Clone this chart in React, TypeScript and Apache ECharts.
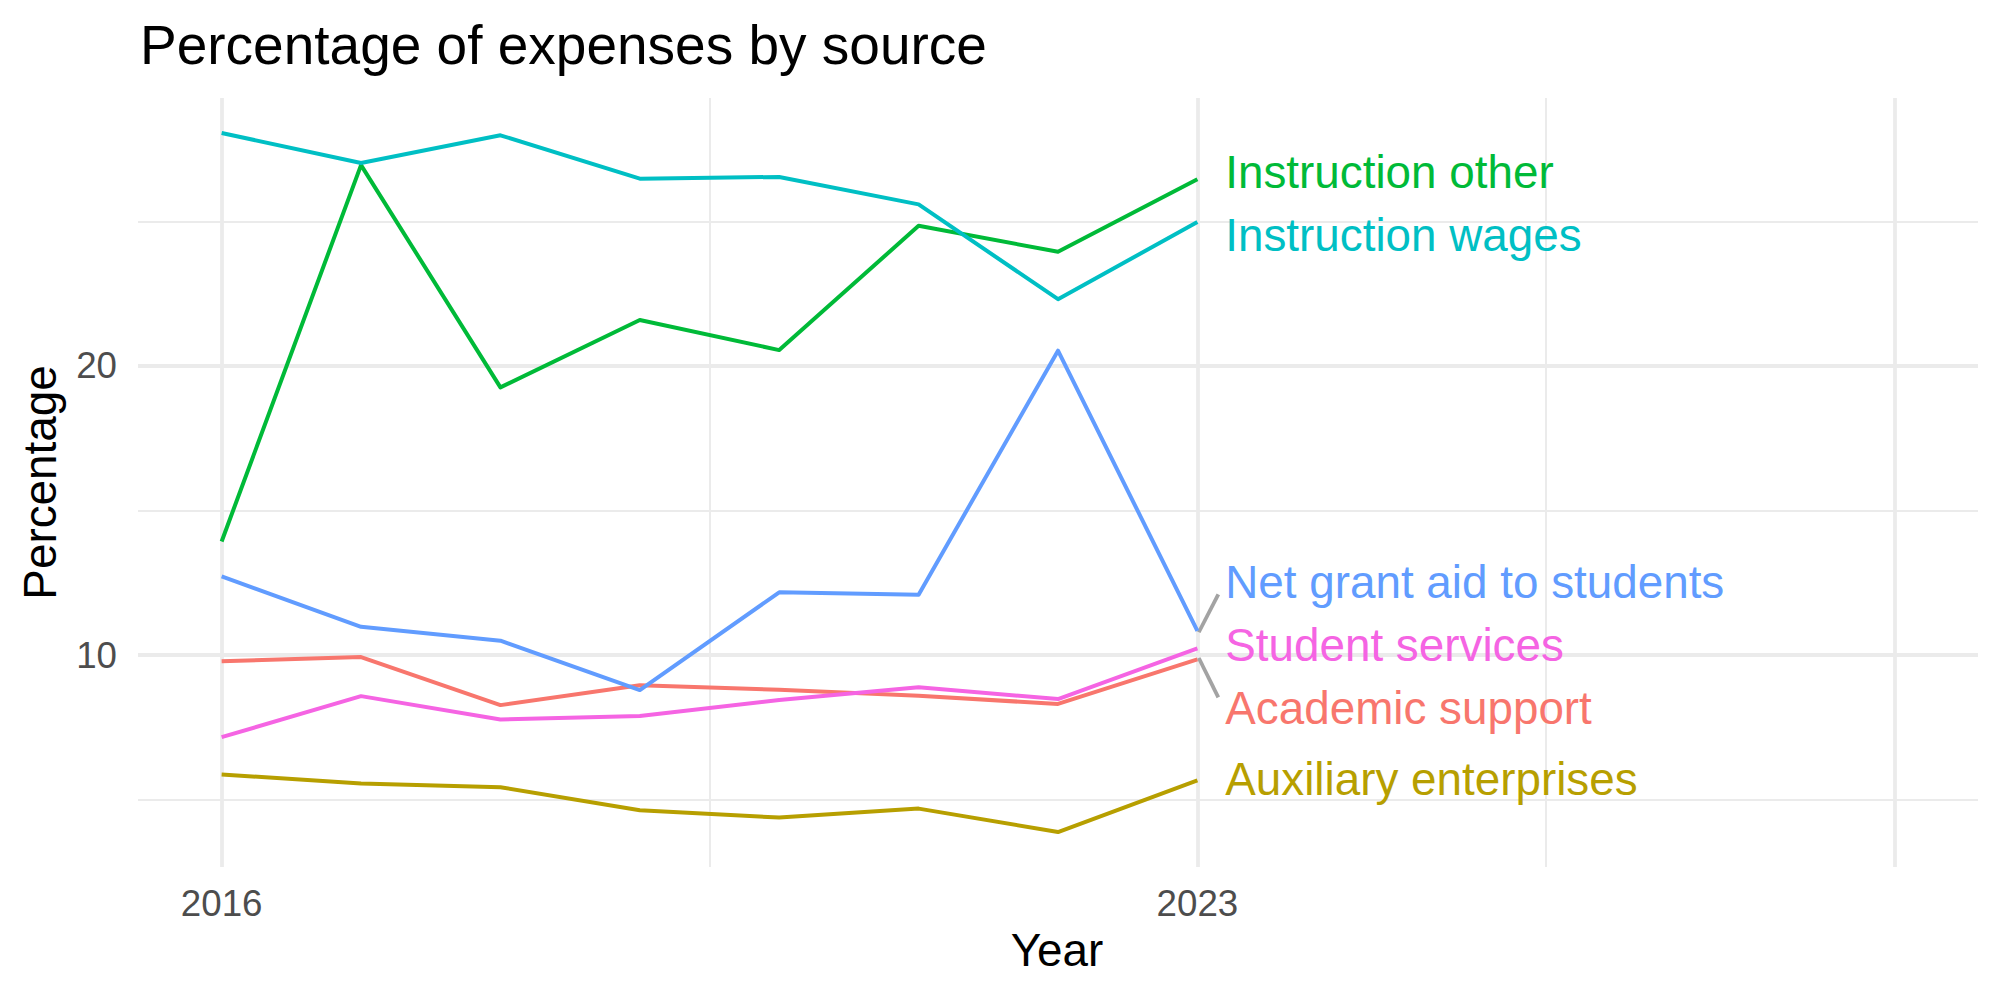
import React, { useEffect, useRef } from "react";
import * as echarts from "echarts";

// Expense shares by source, 2016–2023 (percent)
const years = [2016, 2017, 2018, 2019, 2020, 2021, 2022, 2023];
const sources = [
  "Academic support",
  "Auxiliary enterprises",
  "Instruction other",
  "Instruction wages",
  "Net grant aid to students",
  "Student services",
];
const academicSupport = [9.79, 9.93, 8.27, 8.96, 8.8, 8.59, 8.31, 9.85];
const auxiliaryEnterprises = [5.87, 5.56, 5.43, 4.63, 4.38, 4.69, 3.88, 5.67];
const instructionOther = [13.93, 26.95, 19.26, 21.59, 20.55, 24.85, 23.95, 26.46];
const instructionWages = [28.06, 27.02, 27.98, 26.48, 26.54, 25.59, 22.31, 24.98];
const netGrantAid = [12.72, 10.98, 10.5, 8.79, 12.17, 12.09, 20.53, 10.84];
const studentServices = [7.16, 8.58, 7.77, 7.89, 8.45, 8.89, 8.48, 10.23];

// Where each series' end label sits (after repelling overlaps)
const labelY = [8.14, 5.68, 26.71, 24.52, 12.5, 10.34];
const labelX = 2023.2;
const leaderSources = ["Net grant aid to students", "Academic support"];

const xTicks = [2016, 2023];
const yTicks = [10, 20];
const xMajorGrid = [2016, 2023, 2028];
const xMinorGrid = [2019.5, 2025.5];
const yMajorGrid = [10, 20];
const yMinorGrid = [5, 15, 25];

const hue = ["#F8766D", "#B79F00", "#00BA38", "#00BFC4", "#619CFF", "#F564E3"];
const FONT = "'Liberation Sans', Arial, Helvetica, sans-serif";

const values = [
  academicSupport,
  auxiliaryEnterprises,
  instructionOther,
  instructionWages,
  netGrantAid,
  studentServices,
];

const X_MIN = 2015.4;
const X_MAX = 2028.6;
const Y_MIN = 2.67;
const Y_MAX = 29.27;

export default function App() {
  const ref = useRef<HTMLDivElement>(null);

  useEffect(() => {
    document.body.style.margin = "0";
    if (!ref.current) return;
    const chart = echarts.init(ref.current, undefined, { renderer: "svg" });

    const GRID = "#EBEBEB";
    const MAJOR = 3.8;
    const MINOR = 2;
    const gridLines = [
      ...xMajorGrid.map((v) => ({ xAxis: v, lineStyle: { width: MAJOR, color: GRID, type: "solid" } })),
      ...xMinorGrid.map((v) => ({ xAxis: v, lineStyle: { width: MINOR, color: GRID, type: "solid" } })),
      ...yMajorGrid.map((v) => ({ yAxis: v, lineStyle: { width: MAJOR, color: GRID, type: "solid" } })),
      ...yMinorGrid.map((v) => ({ yAxis: v, lineStyle: { width: MINOR, color: GRID, type: "solid" } })),
    ];

    const lineSeries = sources.map((name, i) => ({
      name,
      type: "line",
      data: years.map((y, j) => [y, values[i][j]]),
      showSymbol: false,
      symbol: "none",
      z: 3,
      lineStyle: { color: hue[i], width: 4, join: "round", cap: "butt" },
      itemStyle: { color: hue[i] },
    }));

    const leaderSeries = leaderSources.map((name) => {
      const i = sources.indexOf(name);
      const last = values[i][values[i].length - 1];
      const dir = Math.sign(labelY[i] - last);
      return {
        type: "line",
        data: [
          [2023.01, last - dir * 0.05],
          [2023.15, labelY[i] - dir * 0.4],
        ],
        showSymbol: false,
        symbol: "none",
        z: 2,
        lineStyle: { color: "#A3A3A3", width: 3.8, cap: "butt" },
      };
    });

    const labelSeries = sources.map((name, i) => ({
      type: "scatter",
      data: [[labelX, labelY[i]]],
      symbolSize: 0,
      z: 4,
      label: {
        show: true,
        position: "right",
        distance: 0,
        formatter: name,
        color: hue[i],
        opacity: 1,
        textBorderWidth: 0,
        textShadowBlur: 0,
        fontSize: 45.8,
        fontFamily: FONT,
        verticalAlign: "middle",
      },
    }));

    chart.setOption({
      animation: false,
      backgroundColor: "#FFFFFF",
      grid: { left: 138, right: 22, top: 98, bottom: 133, containLabel: false },
      xAxis: {
        type: "value",
        min: X_MIN,
        max: X_MAX,
        axisLine: { show: false },
        axisTick: { show: false },
        splitLine: { show: false },
        axisLabel: {
          customValues: xTicks,
          formatter: (v: number) => String(v),
          color: "#4D4D4D",
          fontSize: 36.7,
          fontFamily: FONT,
          margin: 36,
          verticalAlign: "middle",
        },
      },
      yAxis: {
        type: "value",
        min: Y_MIN,
        max: Y_MAX,
        axisLine: { show: false },
        axisTick: { show: false },
        splitLine: { show: false },
        axisLabel: {
          customValues: yTicks,
          formatter: (v: number) => String(v),
          color: "#4D4D4D",
          fontSize: 36.7,
          fontFamily: FONT,
          margin: 21,
        },
      },
      graphic: [
        {
          type: "text",
          x: 140,
          y: 44.5,
          style: {
            text: "Percentage of expenses by source",
            fill: "#000000",
            fontSize: 55,
            fontFamily: FONT,
            align: "left",
            verticalAlign: "middle",
          },
        },
        {
          type: "text",
          x: 1057,
          y: 950.8,
          style: {
            text: "Year",
            fill: "#000000",
            fontSize: 45.8,
            fontFamily: FONT,
            align: "center",
            verticalAlign: "middle",
          },
        },
        {
          type: "text",
          x: 40,
          y: 482.5,
          rotation: Math.PI / 2,
          style: {
            text: "Percentage",
            fill: "#000000",
            fontSize: 45.8,
            fontFamily: FONT,
            align: "center",
            verticalAlign: "middle",
          },
        },
      ],
      series: [
        {
          type: "line",
          data: [],
          z: 0,
          silent: true,
          markLine: {
            z: 0,
            silent: true,
            symbol: ["none", "none"],
            label: { show: false },
            animation: false,
            lineStyle: { type: "solid" },
            data: gridLines,
          },
        },
        ...leaderSeries,
        ...lineSeries,
        ...labelSeries,
      ],
    });

    return () => chart.dispose();
  }, []);

  return <div ref={ref} style={{ width: 2000, height: 1000 }} />;
}
